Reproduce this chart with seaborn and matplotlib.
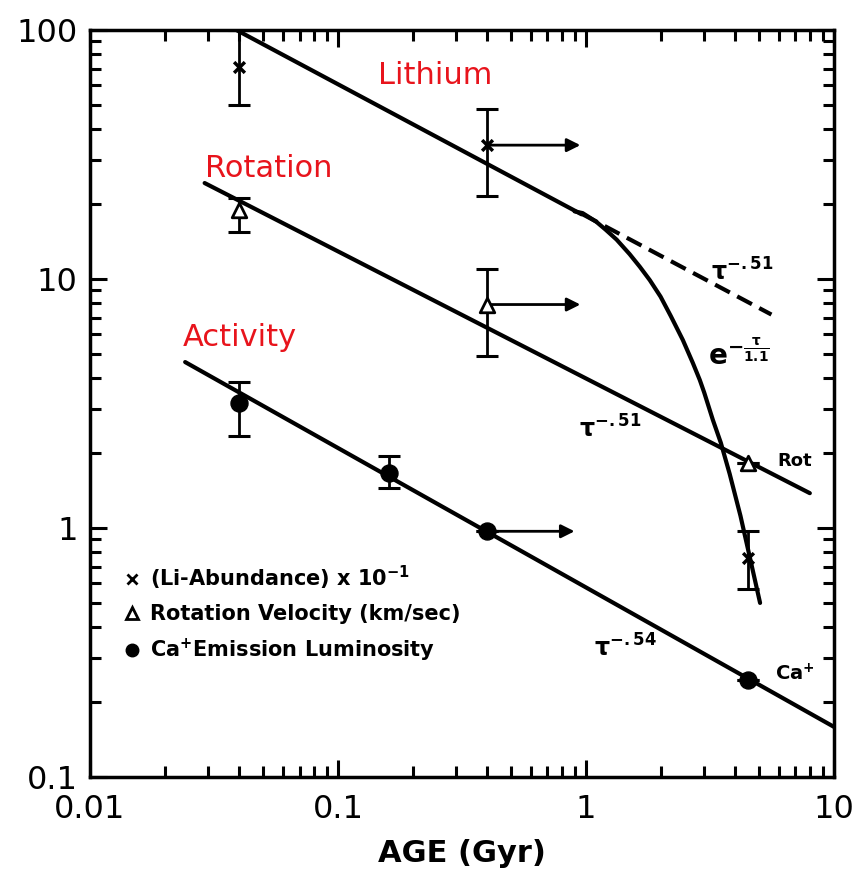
import numpy as np
import pandas as pd
import seaborn as sns
import matplotlib.pyplot as plt
from matplotlib.lines import Line2D
from matplotlib.ticker import FixedLocator, FixedFormatter, LogLocator, NullFormatter

# ages (Gyr) and measured points
age_pts = [0.04, 0.4, 4.5]
li_vals = [71, 34.5, 0.76]
li_lo = [50, 21.5, 0.57]
li_hi = [100, 48, 0.97]
rot_vals = [18.9, 7.9, 1.82]
rot_lo = [15.4, 4.9, 1.82]
rot_hi = [21.1, 11.0, 1.82]
ca_age = [0.04, 0.16, 0.4, 4.5]
ca_vals = [3.18, 1.66, 0.97, 0.245]
ca_lo = [2.35, 1.45, 0.97, 0.245]
ca_hi = [3.86, 1.95, 0.97, 0.245]

# fitted lines
li_fit_x = [0.039, 0.96]
li_fit_y = [100, 18.2]
li_dash_x = [0.97, 5.6]
li_dash_y = [18.2, 7.2]
li_exp_x = [0.9, 0.97, 1.1, 1.2, 1.33, 1.5, 1.65, 1.81, 2.0, 2.2, 2.46, 2.7, 2.88,
            3.0, 3.25, 3.5, 3.8, 4.2, 4.6, 5.04]
li_exp_y = [18.7, 18.4, 17.0, 15.8, 14.4, 12.6, 11.2, 9.9, 8.5, 7.1, 5.69, 4.6, 3.93,
            3.5, 2.72, 2.2, 1.65, 1.12, 0.75, 0.5]
rot_fit_x = [0.029, 8.0]
rot_fit_y = [24.3, 1.38]
ca_fit_x = [0.0242, 10]
ca_fit_y = [4.64, 0.159]

arrow_end = [0.95, 0.95, 0.9]

sns.set_style('ticks')
plt.rcParams['font.family'] = ['DejaVu Sans']
plt.rcParams['text.color'] = 'k'

fig = plt.figure(figsize=(8.57, 8.72), dpi=100)
ax = fig.add_axes([0.105, 0.109, 0.868, 0.8565])
ax.set_xscale('log')
ax.set_yscale('log')

lw = 3
sns.lineplot(x=li_fit_x, y=li_fit_y, ax=ax, color='k', lw=lw)
sns.lineplot(x=li_dash_x, y=li_dash_y, ax=ax, color='k', lw=lw, linestyle=(0, (4, 2)))
sns.lineplot(x=li_exp_x, y=li_exp_y, ax=ax, color='k', lw=lw, sort=False)
sns.lineplot(x=rot_fit_x, y=rot_fit_y, ax=ax, color='k', lw=lw)
sns.lineplot(x=ca_fit_x, y=ca_fit_y, ax=ax, color='k', lw=lw)

# error bars
def err(x, v, lo, hi):
    v = np.array(v); lo = np.array(lo); hi = np.array(hi)
    ax.errorbar(x, v, yerr=[v - lo, hi - v], fmt='none', ecolor='k',
                elinewidth=2, capsize=8, capthick=2.2, zorder=3)

err(age_pts, li_vals, li_lo, li_hi)
err(age_pts, rot_vals, rot_lo, rot_hi)
err(ca_age, ca_vals, ca_lo, ca_hi)

sns.scatterplot(x=age_pts, y=li_vals, ax=ax, marker='x', s=60, color='k',
                linewidth=2.5, zorder=4)
sns.scatterplot(x=age_pts, y=rot_vals, ax=ax, marker='^', s=110, facecolor='white',
                edgecolor='k', linewidth=2, zorder=4)
sns.scatterplot(x=ca_age, y=ca_vals, ax=ax, marker='o', s=150, color='k',
                edgecolor='k', zorder=4)

# lower-limit arrows from the 0.4 Gyr points
for yv, xe in zip([li_vals[1], rot_vals[1], ca_vals[2]], arrow_end):
    ax.annotate('', xy=(xe, yv), xytext=(0.4, yv),
                arrowprops=dict(arrowstyle='-|>', lw=2, color='k', mutation_scale=20,
                                shrinkA=0, shrinkB=0))

# red labels
red = '#e8141c'
ax.text(0.145, 66, 'Lithium', color=red, fontsize=22, va='center')
ax.text(0.029, 27.9, 'Rotation', color=red, fontsize=22, va='center')
ax.text(0.0237, 5.8, 'Activity', color=red, fontsize=22, va='center')

# curve annotations
ax.text(3.2, 10.7, r'$\mathbf{\tau^{-.51}}$', fontsize=17, va='center', color='k')
ax.text(0.94, 2.5, r'$\mathbf{\tau^{-.51}}$', fontsize=17, va='center', color='k')
ax.text(1.08, 0.33, r'$\mathbf{\tau^{-.54}}$', fontsize=17, va='center', color='k')
ax.text(3.1, 4.9, r'$\mathbf{e^{-\frac{\tau}{1.1}}}$', fontsize=20, va='center', color='k')
ax.text(5.9, 1.85, 'Rot', fontsize=13, fontweight='bold', va='center', color='k')
ax.text(5.8, 0.26, r'Ca$^{\mathbf{+}}$', fontsize=14, fontweight='bold', va='center',
        color='k')

handles = [
    Line2D([], [], marker='x', color='k', ls='none', ms=7, mew=2),
    Line2D([], [], marker='^', mfc='white', mec='k', ls='none', ms=9, mew=2),
    Line2D([], [], marker='o', color='k', ls='none', ms=9),
]
labels = [r'(Li-Abundance) x 10$^{\mathbf{-1}}$', 'Rotation Velocity (km/sec)',
          r'Ca$^{\mathbf{+}}$Emission Luminosity']
leg = ax.legend(handles, labels, loc='upper left', bbox_to_anchor=(0.03, 0.297),
                frameon=False, handletextpad=0.3, labelspacing=0.6, borderaxespad=0,
                handlelength=1.1, prop={'weight': 'bold', 'size': 15}, labelcolor='k')

ax.set_xlim(0.01, 10)
ax.set_ylim(0.1, 100)
ax.xaxis.set_major_locator(FixedLocator([0.01, 0.1, 1, 10]))
ax.xaxis.set_major_formatter(FixedFormatter(['0.01', '0.1', '1', '10']))
ax.yaxis.set_major_locator(FixedLocator([0.1, 1, 10, 100]))
ax.yaxis.set_major_formatter(FixedFormatter(['0.1', '1', '10', '100']))
for a in (ax.xaxis, ax.yaxis):
    a.set_minor_locator(LogLocator(base=10, subs=np.arange(2, 10)))
    a.set_minor_formatter(NullFormatter())
ax.tick_params(which='both', direction='in', top=True, right=True, width=2.2,
               color='k', labelcolor='k')
ax.tick_params(which='major', length=12, labelsize=23, pad=9)
ax.tick_params(axis='x', which='major', pad=12)
ax.tick_params(which='minor', length=8)
for s in ax.spines.values():
    s.set_linewidth(2.5)
    s.set_color('k')

ax.set_xlabel('AGE (Gyr)', fontsize=22, fontweight='bold', labelpad=10, color='k')
ax.set_ylabel('')

fig.savefig('out.png', dpi=100)
